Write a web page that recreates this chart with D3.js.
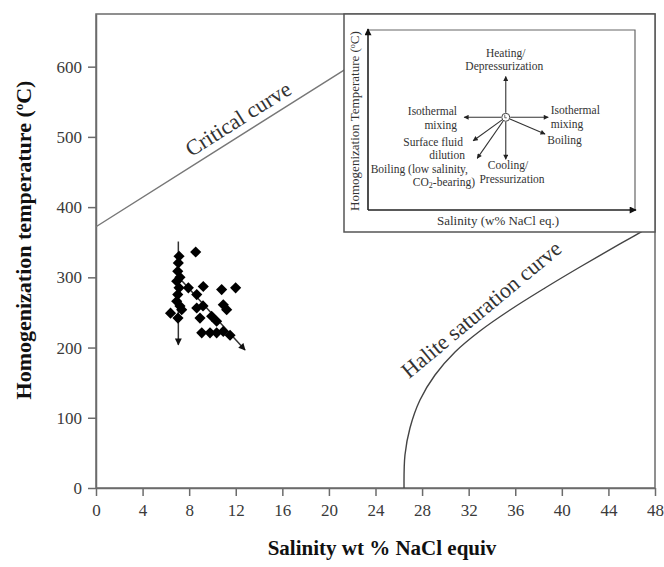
<!DOCTYPE html>
<html><head><meta charset="utf-8">
<script src="https://cdn.jsdelivr.net/npm/d3@7"></script>
<style>body{margin:0;background:#fff} svg{display:block}</style>
</head><body><svg id="c" width="664" height="567"></svg>
<script>
// ---- data ----
const xTicks = [0,4,8,12,16,20,24,28,32,36,40,44,48];
const yTicks = [0,100,200,300,400,500,600];
const salinity =    [8.56,7.13,7.07,7.02,7.21,6.93,7.13,7.02,6.93,7.21,6.40,7.04,7.36,7.93,9.21,10.79,11.99,8.65,8.65,9.19,10.93,11.22,8.93,9.93,10.36,9.08,9.79,10.36,10.93,11.51];
const temperature = [336, 330, 320.5,308.7,300, 294.4,285, 275.4,266, 259, 249, 242, 254, 285, 287, 282.5,285, 275.4,256.4,259.3,261, 254, 242, 244.6,237.5,221, 221, 221, 223, 217.5];
const criticalSal  = [0, 10, 21.3, 28];
const criticalTemp = [372, 477, 595, 666];
const haliteSal  = [26.45,26.53,26.96,27.82,29.11,30.83,32.97,35.55,38.55,41.56,44.99,48];
const haliteTemp = [0,    47,   85.5, 125.3,160.9,193.7,223.6,253.5,284.8,314.7,347.5,376];
const trendFrom = [[7.07,351],[7.0,302]];
const trendTo   = [[7.07,204],[12.8,196.6]];

const serif = "'Liberation Serif','Times New Roman',serif";
const svg = d3.select('#c');
const x = d3.scaleLinear().domain([0,48]).range([96,655]);
const y = d3.scaleLinear().domain([0,675]).range([488,14]);

const defs = svg.append('defs');
defs.append('clipPath').attr('id','plot').append('rect')
  .attr('x',x(0)).attr('y',y(675)).attr('width',x(48)-x(0)).attr('height',y(0)-y(675));
function marker(id, w, h, col){
  defs.append('marker').attr('id',id).attr('viewBox','0 0 10 10').attr('refX',9).attr('refY',5)
    .attr('markerUnits','userSpaceOnUse').attr('markerWidth',w).attr('markerHeight',h).attr('orient','auto')
    .append('path').attr('d','M0,0 L10,5 L0,10 z').attr('fill',col);
}
marker('ah', 8, 7, '#111');
marker('ahs', 6, 5, '#222');

// frame
svg.append('rect').attr('x',x(0)).attr('y',y(675)).attr('width',x(48)-x(0)).attr('height',y(0)-y(675))
  .attr('fill','none').attr('stroke','#6b6b6b').attr('stroke-width',1.5);

// axes
const gx = svg.append('g').attr('transform',`translate(0,${y(0)})`)
  .call(d3.axisBottom(x).tickValues(xTicks).tickSize(8).tickPadding(8).tickSizeOuter(0).tickFormat(d3.format('d')));
const gy = svg.append('g').attr('transform',`translate(${x(0)},0)`)
  .call(d3.axisLeft(y).tickValues(yTicks).tickSize(8).tickPadding(6).tickSizeOuter(0).tickFormat(d3.format('d')));
[gx,gy].forEach(g=>{
  g.select('.domain').attr('stroke','#6b6b6b').attr('stroke-width',1.5);
  g.selectAll('.tick line').attr('stroke','#6b6b6b').attr('stroke-width',1.5);
  g.selectAll('.tick text').attr('fill','#3a3a3a').style('font-family',serif).style('font-size','17px');
});

// axis titles
svg.append('text').attr('x',382).attr('y',555).attr('text-anchor','middle')
  .style('font-family',serif).style('font-size','21px').style('font-weight','bold').attr('fill','#111')
  .text('Salinity wt % NaCl equiv');
const yt = svg.append('text').attr('transform','translate(31,240) rotate(-90)').attr('text-anchor','middle')
  .style('font-family',serif).style('font-size','22px').style('font-weight','bold').attr('fill','#111');
yt.append('tspan').text('Homogenization temperature (');
yt.append('tspan').attr('dy',-8).style('font-size','13px').text('o');
yt.append('tspan').attr('dy',8).text('C)');

// curves
const cg = svg.append('g').attr('clip-path','url(#plot)');
cg.append('path').datum(criticalSal.map((s,i)=>[s,criticalTemp[i]])).attr('d',d3.line().x(d=>x(d[0])).y(d=>y(d[1])))
  .attr('fill','none').attr('stroke','#777').attr('stroke-width',1.4);
cg.append('path').datum(haliteSal.map((s,i)=>[s,haliteTemp[i]])).attr('d',d3.line().curve(d3.curveCatmullRom.alpha(0.5)).x(d=>x(d[0])).y(d=>y(d[1])))
  .attr('fill','none').attr('stroke','#444').attr('stroke-width',1.4);

// curve labels
function curveLabel(txt, a, b, t, off){
  const p0=[x(a[0]),y(a[1])], p1=[x(b[0]),y(b[1])];
  const px=p0[0]+(p1[0]-p0[0])*t, py=p0[1]+(p1[1]-p0[1])*t;
  const ang=Math.atan2(p1[1]-p0[1],p1[0]-p0[0])*180/Math.PI;
  svg.append('text').attr('transform',`translate(${px},${py}) rotate(${ang})`).attr('dy',-off)
    .attr('text-anchor','middle').style('font-family',serif).style('font-size','22px').attr('fill','#333').text(txt);
}
curveLabel('Critical curve',[criticalSal[0],criticalTemp[0]],[criticalSal[2],criticalTemp[2]],0.606,8);
curveLabel('Halite saturation curve',[haliteSal[3],haliteTemp[3]],[haliteSal[9],haliteTemp[9]],0.505,23);

// trend arrows
trendFrom.forEach((f,i)=>{
  svg.append('line').attr('x1',x(f[0])).attr('y1',y(f[1])).attr('x2',x(trendTo[i][0])).attr('y2',y(trendTo[i][1]))
    .attr('stroke','#333').attr('stroke-width',1.5).attr('marker-end','url(#ah)');
});

// data points
svg.append('g').selectAll('path').data(salinity.map((s,i)=>[s,temperature[i]])).join('path')
  .attr('d',d3.symbol(d3.symbolSquare,62)())
  .attr('transform',d=>`translate(${x(d[0])},${y(d[1])}) rotate(45)`).attr('fill','#000');

// ---- inset ----
const ig = svg.append('g');
ig.append('rect').attr('x',344).attr('y',14).attr('width',655-344).attr('height',232-14)
  .attr('fill','#fff').attr('stroke','#555').attr('stroke-width',1.5);
const ix = d3.scaleLinear().domain([0,100]).range([368,635]);
const iy = d3.scaleLinear().domain([0,100]).range([210,30]);
ig.append('path').attr('d',`M${ix(0)},${iy(100)} H${ix(100)} V${iy(0)}`).attr('fill','none').attr('stroke','#666').attr('stroke-width',1.2);
ig.append('line').attr('x1',ix(0)).attr('y1',iy(0)).attr('x2',ix(0)).attr('y2',iy(100)-1).attr('stroke','#222').attr('stroke-width',1.6).attr('marker-end','url(#ah)');
ig.append('line').attr('x1',ix(0)).attr('y1',iy(0)).attr('x2',ix(100)+1).attr('y2',iy(0)).attr('stroke','#222').attr('stroke-width',1.6).attr('marker-end','url(#ah)');
const c0=[51.6,51.5];
const vecs=[[51.6,74.1],[51.6,28.2],[36.0,51.5],[67.5,51.5],[66.3,42.2],[39.4,38.5],[40.9,28.7]];
vecs.forEach(v=>{
  const X0=ix(c0[0]),Y0=iy(c0[1]),X1=ix(v[0]),Y1=iy(v[1]);
  const L=Math.hypot(X1-X0,Y1-Y0);
  ig.append('line').attr('x1',X0+(X1-X0)/L*4.5).attr('y1',Y0+(Y1-Y0)/L*4.5).attr('x2',X1).attr('y2',Y1)
    .attr('stroke','#333').attr('stroke-width',1.1).attr('marker-end','url(#ahs)');
});
ig.append('circle').attr('cx',ix(c0[0])).attr('cy',iy(c0[1])).attr('r',4).attr('fill','#fff').attr('stroke','#444').attr('stroke-width',1);
ig.append('path').attr('d',`M${ix(c0[0])-1},${iy(c0[1])-2.5} v3 h2`).attr('fill','none').attr('stroke','#444').attr('stroke-width',0.8);

function itext(px,py,anchor,txt,size){
  return ig.append('text').attr('x',px).attr('y',py).attr('text-anchor',anchor)
    .style('font-family',serif).style('font-size',(size||11.5)+'px').attr('fill','#333').text(txt);
}
itext(505.7,57,'middle','Heating/');
itext(504.3,70,'middle','Depressurization');
itext(457,115,'end','Isothermal');
itext(457,129,'end','mixing');
itext(550.7,114,'start','Isothermal');
itext(550.7,128,'start','mixing');
itext(547.3,144,'start','Boiling');
itext(463,145.5,'end','Surface fluid');
itext(465,159,'end','dilution');
itext(468,173,'end','Boiling (low salinity,');
const co=itext(475,185.5,'end','CO');
co.append('tspan').attr('dy',2).style('font-size','8px').text('2');
co.append('tspan').attr('dy',-2).text('-bearing)');
itext(508,169,'middle','Cooling/');
itext(512,183,'middle','Pressurization');
itext(498,225,'middle','Salinity (w% NaCl eq.)',13);
const it=ig.append('text').attr('transform','translate(359,121) rotate(-90)').attr('text-anchor','middle')
  .style('font-family',serif).style('font-size','13px').attr('fill','#333');
it.append('tspan').text('Homogenization Temperature (');
it.append('tspan').attr('dy',-4).style('font-size','8px').text('o');
it.append('tspan').attr('dy',4).text('C)');
</script></body></html>
